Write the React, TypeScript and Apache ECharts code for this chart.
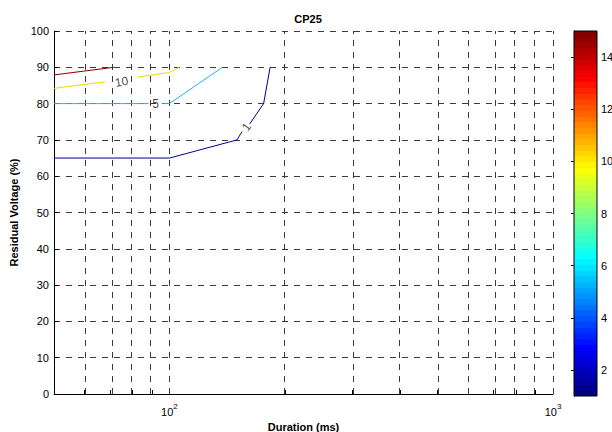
import React, { useEffect, useRef } from 'react';
import * as echarts from 'echarts';

const chartTitle = 'CP25';
const xAxisTitle = 'Duration (ms)';
const yAxisTitle = 'Residual Voltage (%)';

const xMin = 50;
const xMax = 1000;
const xGridValues = [60, 70, 80, 90, 100, 200, 300, 400, 500, 600, 700, 800, 900, 1000];
const xLabelValues = [100, 1000];
const yMin = 0;
const yMax = 100;
const yInterval = 10;

const colorbarMin = 1;
const colorbarMax = 15;
const colorbarTicks = [2, 4, 6, 8, 10, 12, 14];

// contour lines: [duration ms, residual voltage %], null = gap for the label
const contourLevels = [1, 5, 10, 15];
const contour1: (number[] | null)[] = [[50, 65], [100, 65], [150, 70], [154.6, 72.3], null, [161.9, 74.4], [176, 80], [183, 90]];
const contour5: (number[] | null)[] = [[50, 80], [88.2, 80], null, [95.9, 80], [100, 80], [137.4, 90]];
const contour10: (number[] | null)[] = [[50, 84.2], [68, 86.0], null, [82.5, 87.3], [100, 88.6], [106, 90]];
const contour15: (number[] | null)[] = [[50, 87.9], [71.6, 90]];
const contourLines = [contour1, contour5, contour10, contour15];

const contourLabelTexts = ['1', '5', '10'];
const contourLabelPoints = [[158.7, 73.6], [92, 79.9], [75, 86.0]];

const labelAngles = [54, 0, 10];
const lineColors = ['#00008F', '#22B0FF', '#F2DA00', '#8B0000'];

function jet(t: number): string {
  const c = (v: number) => Math.round(Math.max(0, Math.min(1, v)) * 255);
  const r = c(1.5 - Math.abs(4 * t - 3));
  const g = c(1.5 - Math.abs(4 * t - 2));
  const b = c(1.5 - Math.abs(4 * t - 1));
  return `rgb(${r},${g},${b})`;
}

const FONT = '"Liberation Sans", Arial, Helvetica, sans-serif';

export default function App() {
  const ref = useRef<HTMLDivElement>(null);
  useEffect(() => {
    if (!ref.current) return;
    const chart = echarts.init(ref.current, null, { renderer: 'svg' });
    const lg = (v: number) => Math.log10(v);

    const stops: { offset: number; color: string }[] = [];
    const n = 64;
    for (let i = 0; i < n; i++) {
      const col = jet(i / (n - 1));
      stops.push({ offset: i / n, color: col });
      stops.push({ offset: (i + 1) / n, color: col });
    }

    const gridDash = { color: '#3a3a3a', width: 1, type: [6, 6] as any };

    const option: any = {
      animation: false,
      backgroundColor: '#fff',
      textStyle: { fontFamily: FONT },
      title: {
        text: chartTitle,
        left: 303,
        textAlign: 'center',
        top: 8,
        textStyle: { fontSize: 11, fontWeight: 'bold', color: '#000', fontFamily: FONT },
      },
      grid: [
        { left: 54, top: 31, width: 499, height: 363, outerBoundsMode: 'none', containLabel: false },
        { left: 574, top: 31, width: 23, height: 365, outerBoundsMode: 'none', containLabel: false },
      ],
      xAxis: [
        {
          type: 'value',
          gridIndex: 0,
          min: lg(xMin),
          max: lg(xMax),
          name: xAxisTitle,
          nameLocation: 'middle',
          nameGap: 23,
          nameTextStyle: { fontSize: 11, fontWeight: 'bold', color: '#000', fontFamily: FONT },
          axisLine: { show: true, lineStyle: { color: '#000', width: 1 } },
          axisTick: { show: true, inside: true, length: 4, lineStyle: { color: '#000' }, customValues: xGridValues.map(lg) },
          axisLabel: {
            show: true,
            margin: 8,
            customValues: xLabelValues.map(lg),
            formatter: (v: number) => '{b|10}{sup|' + Math.round(v) + '}',
            rich: {
              b: { fontSize: 11, color: '#000', fontFamily: FONT, verticalAlign: 'bottom' },
              sup: { fontSize: 8, color: '#000', fontFamily: FONT, verticalAlign: 'bottom', padding: [0, 0, 7, 0] },
            },
          },
          splitLine: { show: false },
        },
        { type: 'value', gridIndex: 1, min: 0, max: 1, show: false },
      ],
      yAxis: [
        {
          type: 'value',
          gridIndex: 0,
          min: yMin,
          max: yMax,
          interval: yInterval,
          name: yAxisTitle,
          nameLocation: 'middle',
          nameGap: 25,
          nameTextStyle: { fontSize: 11, fontWeight: 'bold', color: '#000', fontFamily: FONT },
          axisLine: { show: true, lineStyle: { color: '#000', width: 1 } },
          axisTick: { show: true, inside: true, length: 4, lineStyle: { color: '#000' } },
          axisLabel: { fontSize: 11, color: '#000', margin: 5, fontFamily: FONT },
          splitLine: { show: true, lineStyle: gridDash },
        },
        {
          type: 'value',
          gridIndex: 1,
          min: colorbarMin,
          max: colorbarMax,
          position: 'right',
          axisLine: { show: true, lineStyle: { color: '#000' } },
          axisTick: { show: true, inside: true, length: 3, lineStyle: { color: '#000' }, customValues: colorbarTicks },
          axisLabel: { fontSize: 11, color: '#000', margin: 4, customValues: colorbarTicks, fontFamily: FONT },
          splitLine: { show: false },
        },
        {
          type: 'value',
          gridIndex: 1,
          min: colorbarMin,
          max: colorbarMax,
          position: 'left',
          axisLine: { show: true, lineStyle: { color: '#000' } },
          axisTick: { show: true, inside: true, length: 3, lineStyle: { color: '#000' }, customValues: colorbarTicks },
          axisLabel: { show: false },
          splitLine: { show: false },
        },
      ],
      series: [
        {
          type: 'line',
          xAxisIndex: 0,
          yAxisIndex: 0,
          data: [],
          silent: true,
          z: 1,
          markLine: {
            silent: true,
            symbol: 'none',
            label: { show: false },
            lineStyle: gridDash,
            data: xGridValues.map((v) => ({ xAxis: lg(v) })),
          },
        },
        ...contourLines.map((pts, i) => ({
          type: 'line',
          name: String(contourLevels[i]),
          xAxisIndex: 0,
          yAxisIndex: 0,
          data: pts.map((p) => (p ? [lg(p[0]), p[1]] : ['-', '-'])),
          showSymbol: false,
          symbol: 'none',
          connectNulls: false,
          lineStyle: { color: lineColors[i], width: 1 },
          z: 5,
        })),
        {
          type: 'scatter',
          xAxisIndex: 0,
          yAxisIndex: 0,
          symbolSize: 0,
          z: 6,
          data: contourLabelTexts.map((t, i) => ({
            name: t,
            value: [lg(contourLabelPoints[i][0]), contourLabelPoints[i][1]],
            label: { rotate: labelAngles[i] },
          })),
          label: {
            show: true,
            position: 'inside',
            formatter: (p: any) => p.name,
            fontSize: 12,
            color: '#111',
            fontFamily: FONT,
          },
        },
        {
          type: 'custom',
          xAxisIndex: 1,
          yAxisIndex: 1,
          data: [[0, colorbarMin]],
          silent: true,
          renderItem: (_params: any, api: any) => {
            const p0 = api.coord([0, colorbarMin]);
            const p1 = api.coord([1, colorbarMax]);
            return {
              type: 'rect',
              shape: { x: p0[0], y: p1[1], width: p1[0] - p0[0], height: p0[1] - p1[1] },
              style: {
                fill: new echarts.graphic.LinearGradient(0, 1, 0, 0, stops),
                stroke: '#000',
                lineWidth: 1,
              },
            };
          },
        },
      ],
    };
    chart.setOption(option);
    return () => chart.dispose();
  }, []);
  return <div ref={ref} style={{ position: 'fixed', left: 0, top: 0, width: 612, height: 432 }} />;
}
